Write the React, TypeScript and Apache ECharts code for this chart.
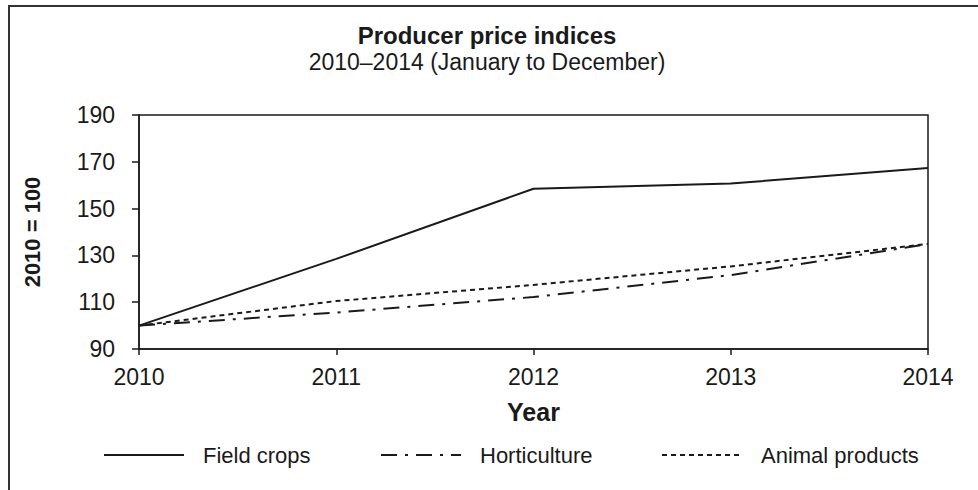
import React, { useEffect, useRef } from "react";
import * as echarts from "echarts";

const years = ["2010", "2011", "2012", "2013", "2014"];
const fieldCrops = [100, 128.5, 158.5, 160.7, 167.4];
const horticulture = [100, 105.6, 112.2, 121.6, 134.8];
const animalProducts = [100, 110.5, 117.4, 125.3, 134.9];
const seriesNames = ["Field crops", "Horticulture", "Animal products"];

const FONT = "'Liberation Sans', Arial, sans-serif";
const INK = "#1a1a1a";

export default function App() {
  const ref = useRef<HTMLDivElement>(null);
  useEffect(() => {
    if (!ref.current) return;
    const chart = echarts.init(ref.current, undefined, { renderer: "svg" });
    const legendBase = {
      orient: "horizontal",
      itemWidth: 80,
      itemHeight: 14,
      padding: 0,
      top: 444,
      itemStyle: { opacity: 0 },
      textStyle: { fontFamily: FONT, fontSize: 22, color: INK, padding: [0, 0, 0, 14] },
      selectedMode: false,
    };
    chart.setOption({
      animation: false,
      backgroundColor: "#fff",
      textStyle: { fontFamily: FONT },
      graphic: [
        {
          type: "rect",
          shape: { x: 9, y: 6, width: 1200, height: 700 },
          style: { fill: "none", stroke: "#333", lineWidth: 2 },
          silent: true,
        },
      ],
      title: [
        {
          text: "Producer price indices",
          left: 482,
          top: 18,
          textAlign: "center",
          textStyle: { fontFamily: FONT, fontSize: 24, fontWeight: "bold", color: INK },
        },
        {
          text: "2010–2014 (January to December)",
          left: 482,
          top: 45,
          textAlign: "center",
          textStyle: { fontFamily: FONT, fontSize: 23, fontWeight: "normal", color: INK },
        },
      ],
      legend: [
        { ...legendBase, left: 103, data: [seriesNames[0]] },
        { ...legendBase, left: 380, data: [seriesNames[1]] },
        { ...legendBase, left: 661, data: [seriesNames[2]] },
      ],
      grid: {
        left: 139,
        right: 50,
        top: 115,
        bottom: 141,
        show: true,
        borderColor: INK,
        borderWidth: 1.5,
        backgroundColor: "transparent",
      },
      xAxis: {
        type: "category",
        data: years,
        boundaryGap: false,
        name: "Year",
        nameLocation: "middle",
        nameGap: 50,
        nameTextStyle: { fontFamily: FONT, fontSize: 25, fontWeight: "bold", color: INK },
        axisLine: { lineStyle: { color: INK, width: 1.5 } },
        axisTick: { show: true, length: 6, inside: false, lineStyle: { color: INK, width: 1.5 } },
        axisLabel: { fontFamily: FONT, fontSize: 23, color: INK, margin: 16 },
        splitLine: { show: false },
      },
      yAxis: {
        type: "value",
        min: 90,
        max: 190,
        interval: 20,
        name: "2010 = 100",
        nameLocation: "middle",
        nameGap: 96,
        nameRotate: 90,
        nameTextStyle: { fontFamily: FONT, fontSize: 22, fontWeight: "bold", color: INK },
        axisLine: { show: true, lineStyle: { color: INK, width: 1.5 } },
        axisTick: { show: true, length: 7, inside: false, lineStyle: { color: INK, width: 1.5 } },
        axisLabel: { fontFamily: FONT, fontSize: 23, color: INK, margin: 24 },
        splitLine: { show: false },
      },
      series: [
        {
          name: seriesNames[0],
          type: "line",
          data: fieldCrops,
          symbol: "none",
          lineStyle: { color: INK, width: 2, type: "solid" },
          itemStyle: { color: INK },
        },
        {
          name: seriesNames[1],
          type: "line",
          data: horticulture,
          symbol: "none",
          lineStyle: { color: INK, width: 2, type: [16, 8, 3, 8] },
          itemStyle: { color: INK },
        },
        {
          name: seriesNames[2],
          type: "line",
          data: animalProducts,
          symbol: "none",
          lineStyle: { color: INK, width: 2, type: [5, 4] },
          itemStyle: { color: INK },
        },
      ],
    });
    return () => chart.dispose();
  }, []);
  return <div ref={ref} style={{ width: 978, height: 490, position: "fixed", left: 0, top: 0 }} />;
}
